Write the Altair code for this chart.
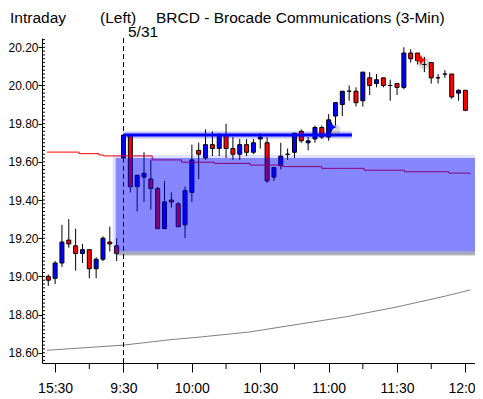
import altair as alt
import pandas as pd

# ---- candle data (3-min bars). index 0 = 15:30 prev day, 10 = 9:30 (5/31), 60 = 12:00
bar_index = list(range(-1, 61))
opens = [19.00, 18.99, 19.07, 19.19, 19.16, 19.12, 19.14, 19.04, 19.09, 19.18, 19.16,
         19.62, 19.74, 19.47, 19.52, 19.51, 19.46, 19.25, 19.40, 19.38, 19.27,
         19.44, 19.66, 19.62, 19.69, 19.67, 19.74, 19.67, 19.64, 19.69, 19.65,
         19.72, 19.70, 19.52, 19.58, 19.64, 19.65, 19.76, 19.70, 19.72, 19.78,
         19.73, 19.84, 19.90, 19.97, 19.97, 19.92, 20.04, 20.01, 20.04, 20.00,
         20.01, 19.99, 20.17, 20.17, 20.11, 20.12, 20.04, 20.06, 20.06, 19.96, 19.975]
highs = [19.01, 19.08, 19.27, 19.30, 19.25, 19.17, 19.14, 19.10, 19.21, 19.26, 19.20,
         19.74, 19.74, 19.53, 19.65, 19.61, 19.47, 19.50, 19.44, 19.39, 19.47,
         19.69, 19.70, 19.77, 19.76, 19.75, 19.80, 19.73, 19.72, 19.72, 19.72,
         19.75, 19.73, 19.57, 19.70, 19.67, 19.75, 19.77, 19.73, 19.79, 19.79,
         19.85, 19.91, 19.97, 20.00, 19.99, 20.07, 20.07, 20.06, 20.04, 20.03,
         20.01, 20.20, 20.19, 20.17, 20.15, 20.12, 20.06, 20.08, 20.06, 19.98, 19.975]
lows = [18.95, 18.96, 19.05, 19.15, 19.03, 19.07, 18.99, 18.99, 19.08, 19.13, 19.08,
        19.60, 19.44, 19.34, 19.39, 19.35, 19.25, 19.25, 19.36, 19.26, 19.20,
        19.39, 19.51, 19.61, 19.63, 19.63, 19.62, 19.61, 19.61, 19.63, 19.64,
        19.67, 19.49, 19.50, 19.56, 19.61, 19.62, 19.70, 19.66, 19.70, 19.72,
        19.71, 19.79, 19.84, 19.92, 19.89, 19.89, 19.95, 19.99, 19.99, 19.92,
        19.95, 19.98, 20.12, 20.11, 20.07, 20.01, 20.01, 20.04, 19.93, 19.92, 19.865]
closes = [18.98, 19.07, 19.18, 19.17, 19.12, 19.14, 19.04, 19.09, 19.20, 19.17, 19.12,
          19.74, 19.47, 19.53, 19.54, 19.46, 19.25, 19.39, 19.39, 19.26, 19.45,
          19.61, 19.64, 19.69, 19.67, 19.74, 19.67, 19.64, 19.69, 19.65, 19.70,
          19.73, 19.50, 19.57, 19.63, 19.64, 19.75, 19.71, 19.71, 19.78, 19.73,
          19.82, 19.91, 19.97, 19.97, 19.91, 20.07, 20.00, 20.03, 20.00, 20.00,
          19.99, 20.17, 20.14, 20.13, 20.11, 20.04, 20.04, 20.06, 19.94, 19.975, 19.87]

# ---- short moving average (red) read at points
ma_short_index = [-1.2, 3.5, 6.4, 7.1, 14.2, 18.5, 23.3, 28.5, 33.3, 39, 45.2, 51.1, 57.6, 60.7]
ma_short_value = [19.651, 19.643, 19.636, 19.631, 19.610, 19.598, 19.592, 19.583, 19.575,
                  19.566, 19.556, 19.548, 19.541, 19.538]

# ---- long moving average (gray)
ma_long_index = [-1.2, 10, 16.5, 21.4, 28.5, 35.7, 42.8, 50, 57.1, 60.7]
ma_long_value = [18.613, 18.640, 18.667, 18.683, 18.709, 18.750, 18.790, 18.840, 18.897, 18.929]

# ---- annotations
zone_start, zone_end = 8.86, 62.0
zone_top, zone_bottom = 19.62, 19.13
resist_level, resist_start, resist_end = 19.74, 10.0, 43.4
session_open_index = 10
buy_signal = (40.4, 19.782)
sell_signal = (53.5, 20.133)

x_tick_values = [0, 10, 20, 30, 40, 50, 60]
x_tick_labels = ["15:30", "9:30", "10:00", "10:30", "11:00", "11:30", "12:00"]
x_minor_values = [5, 15, 25, 35, 45, 55]
y_tick_values = [18.6, 18.8, 19.0, 19.2, 19.4, 19.6, 19.8, 20.0, 20.2]
y_minor_values = [round(18.56 + 0.02 * k, 2) for k in range(85)]

X_DOMAIN = [-1.186, 60.67]
Y_DOMAIN = [18.5463, 20.2487]
FONT = "Liberation Sans, Arial, sans-serif"
PW, PH = 433, 325

df = pd.DataFrame({"i": bar_index, "open": opens, "high": highs, "low": lows, "close": closes})
df["dir"] = ["up" if c > o else ("down" if c < o else "flat") for o, c in zip(opens, closes)]

xs = alt.Scale(domain=X_DOMAIN, nice=False, zero=False)
ys = alt.Scale(domain=Y_DOMAIN, nice=False, zero=False)

label_expr = "[" + ",".join("'%s'" % s for s in x_tick_labels) + "][round(datum.value/10)]"

base = alt.Chart(df)
wicks = base.mark_rule(color="black", strokeWidth=1).encode(
    x=alt.X("i:Q", scale=xs, axis=alt.Axis(values=x_tick_values, labelExpr=label_expr, title=None,
                                           tickSize=9, labelPadding=9, grid=False, labelFlush=False,
                                           labelFontSize=14)),
    y=alt.Y("low:Q", scale=ys, axis=alt.Axis(values=y_tick_values, format=".2f", title=None,
                                             tickSize=4, labelPadding=0, grid=False,
                                             labelFontSize=12)),
    y2="high:Q",
)
bodies = base.mark_bar(size=4, stroke="black", strokeWidth=1).encode(
    x=alt.X("i:Q", scale=xs),
    y=alt.Y("open:Q", scale=ys),
    y2="close:Q",
    color=alt.Color("dir:N", scale=alt.Scale(domain=["up", "down", "flat"],
                                             range=["#0000ff", "#ff0000", "#000000"]), legend=None),
)

ma_s = alt.Chart(pd.DataFrame({"i": ma_short_index, "v": ma_short_value})).mark_line(
    color="#ff0000", strokeWidth=1, interpolate="step-after").encode(
    x=alt.X("i:Q", scale=xs), y=alt.Y("v:Q", scale=ys))
ma_l = alt.Chart(pd.DataFrame({"i": ma_long_index, "v": ma_long_value})).mark_line(
    color="#808080", strokeWidth=1).encode(
    x=alt.X("i:Q", scale=xs), y=alt.Y("v:Q", scale=ys))

zone_df = pd.DataFrame({"x": [zone_start], "x2": [zone_end], "y": [zone_top], "y2": [zone_bottom]})
zone_glow = alt.Chart(zone_df).mark_rect(color="#0000ff", opacity=0.12, clip=True,
                                         xOffset=-3, x2Offset=3, yOffset=-3, y2Offset=3).encode(
    x=alt.X("x:Q", scale=xs), x2="x2", y=alt.Y("y:Q", scale=ys), y2="y2")
zone = alt.Chart(zone_df).mark_rect(color="#0000ff", opacity=0.4, clip=True).encode(
    x=alt.X("x:Q", scale=xs), x2="x2", y=alt.Y("y:Q", scale=ys), y2="y2")
zone_shadow = alt.Chart(zone_df).mark_rect(color="#404040", opacity=0.35, clip=True,
                                           yOffset=0, y2Offset=4).encode(
    x=alt.X("x:Q", scale=xs), x2="x2", y=alt.Y("y2:Q", scale=ys), y2="y2")

res_df = pd.DataFrame({"x": [resist_start], "x2": [resist_end], "y": [resist_level]})
res_glow = alt.Chart(res_df).mark_rule(color="#0000ff", opacity=0.25, strokeWidth=7).encode(
    x=alt.X("x:Q", scale=xs), x2="x2", y=alt.Y("y:Q", scale=ys))
res_line = alt.Chart(res_df).mark_rule(color="#0000ff", strokeWidth=3).encode(
    x=alt.X("x:Q", scale=xs), x2="x2", y=alt.Y("y:Q", scale=ys))

open_line = alt.Chart(pd.DataFrame({"x": [session_open_index]})).mark_rule(
    color="black", strokeWidth=1, strokeDash=[5, 3]).encode(x=alt.X("x:Q", scale=xs))

star_path = "M0,-1L0.3,-0.3L1,0L0.3,0.3L0,1L-0.3,0.3L-1,0L-0.3,-0.3Z"
sig_df = pd.DataFrame({"x": [buy_signal[0], sell_signal[0]], "y": [buy_signal[1], sell_signal[1]],
                       "kind": ["buy", "sell"]})
sig_shadow = alt.Chart(sig_df).mark_circle(color="#303030", opacity=0.18, size=150,
                                           xOffset=3, yOffset=3).encode(
    x=alt.X("x:Q", scale=xs), y=alt.Y("y:Q", scale=ys))
sig = alt.Chart(sig_df).mark_point(shape=star_path, filled=True, size=110, opacity=1,
                                   strokeWidth=0).encode(
    x=alt.X("x:Q", scale=xs), y=alt.Y("y:Q", scale=ys),
    color=alt.Color("kind:N", scale=alt.Scale(domain=["buy", "sell"], range=["#1f9a4a", "#ff2020"]),
                    legend=None))

x_minor = alt.Chart(pd.DataFrame({"x": x_minor_values})).mark_rule(color="black").encode(
    x=alt.X("x:Q", scale=xs), y=alt.value(PH), y2=alt.value(PH + 6))
y_minor = alt.Chart(pd.DataFrame({"y": y_minor_values})).mark_rule(color="black", clip=True).encode(
    y=alt.Y("y:Q", scale=ys), x=alt.value(0), x2=alt.value(3))

one = pd.DataFrame({"a": [0]})
def label(text, x, y, size=15.5):
    return alt.Chart(one).mark_text(text=text, font=FONT, fontSize=size, align="left",
                                    baseline="middle", color="black").encode(
        x=alt.value(x), y=alt.value(y))

texts = [label("Intraday", -32, -20), label("(Left)", 58, -20),
         label("BRCD - Brocade Communications  (3-Min)", 114, -20), label("5/31", 86, -6)]

chart = alt.layer(
    wicks, bodies, ma_s, ma_l, zone_glow, zone, zone_shadow, res_glow, res_line,
    open_line, sig_shadow, sig, x_minor, y_minor, *texts
).properties(
    width=PW, height=PH,
    autosize=alt.AutoSizeParams(type="none"),
    padding={"left": 34, "top": 30, "right": 0, "bottom": 33},
    background="white",
).configure_view(stroke=None).configure_axis(
    labelFont=FONT, labelColor="black", domainColor="black",
    tickColor="black", domainWidth=1, tickWidth=1,
)

chart.save("out.html", embed_options={"renderer": "svg", "actions": False})
